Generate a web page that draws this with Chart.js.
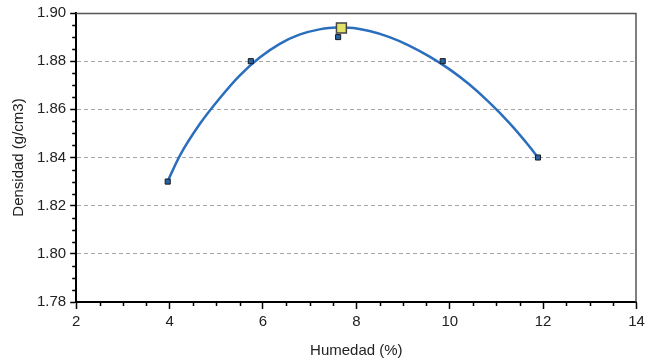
<!DOCTYPE html>
<html lang="es">
<head>
    <meta charset="UTF-8">
    <title>Densidad vs Humedad</title>
    <script src="https://cdn.jsdelivr.net/npm/chart.js"></script>
    <style>
        html, body { margin: 0; padding: 0; background: #fff; }
        #wrap { width: 645px; height: 360px; position: relative; }
    </style>
</head>
<body>
    <div id="wrap">
        <canvas id="chart"></canvas>
    </div>
    <script>
        // ensayo: humedad (%) y densidad seca (g/cm3)
        const humedad = [3.96, 5.74, 7.61, 9.85, 11.89];
        const densidad = [1.83, 1.88, 1.89, 1.88, 1.84];

        // punto maximo de la curva
        const maxHumedad = [7.68];
        const maxDensidad = [1.8938];

        // curva ajustada
        const curvaX = [3.96, 4.22, 4.65, 5.07, 5.50, 5.93, 6.36, 6.78, 7.21, 7.57, 7.85, 8.28, 8.71, 9.13, 9.56, 9.99, 10.41, 10.84, 11.27, 11.69, 11.89];
        const curvaY = [1.8302, 1.8408, 1.8540, 1.8645, 1.8740, 1.8815, 1.8872, 1.8910, 1.8932, 1.8940, 1.8939, 1.8925, 1.8900, 1.8865, 1.8820, 1.8767, 1.8705, 1.8630, 1.8545, 1.8450, 1.8400];

        const xTicks = [2, 4, 6, 8, 10, 12, 14];
        const yTicks = [1.78, 1.80, 1.82, 1.84, 1.86, 1.88, 1.90];

        const toPoints = (xs, ys) => xs.map((x, i) => ({ x: x, y: ys[i] }));
        const font = { family: "'Liberation Sans', Arial, sans-serif", size: 15 };

        // ticks menores y marco superior/derecho
        const framePlugin = {
            id: 'frame',
            afterDraw(chart) {
                const c = chart.ctx;
                const a = chart.chartArea;
                const xs = chart.scales.x;
                const ys = chart.scales.y;
                c.save();
                c.strokeStyle = '#555';
                c.lineWidth = 1.5;
                c.beginPath();
                c.moveTo(a.left, a.top + 0.5);
                c.lineTo(a.right - 0.5, a.top + 0.5);
                c.lineTo(a.right - 0.5, a.bottom);
                c.stroke();

                c.strokeStyle = '#000';
                c.lineWidth = 1.5;
                c.beginPath();
                for (let v = xs.min; v <= xs.max + 1e-9; v += 0.5) {
                    if (Math.abs(v / 2 - Math.round(v / 2)) < 1e-6) continue;
                    const px = Math.round(xs.getPixelForValue(v)) + 0.5;
                    c.moveTo(px, a.bottom);
                    c.lineTo(px, a.bottom + 4);
                }
                for (let v = ys.min; v <= ys.max + 1e-9; v += 0.005) {
                    if (Math.abs(v / 0.02 - Math.round(v / 0.02)) < 1e-6) continue;
                    const py = Math.round(ys.getPixelForValue(v)) + 0.5;
                    c.moveTo(a.left, py);
                    c.lineTo(a.left - 4, py);
                }
                c.stroke();
                c.restore();
            }
        };

        const ctx = document.getElementById('chart').getContext('2d');
        new Chart(ctx, {
            type: 'scatter',
            data: {
                datasets: [
                    {
                        label: 'curva',
                        data: toPoints(curvaX, curvaY),
                        showLine: true,
                        borderColor: '#2a6ebd',
                        borderWidth: 2.5,
                        pointRadius: 0,
                        cubicInterpolationMode: 'monotone',
                        order: 3
                    },
                    {
                        label: 'ensayos',
                        data: toPoints(humedad, densidad),
                        pointStyle: 'rect',
                        pointRadius: 3.6,
                        backgroundColor: '#2563a8',
                        borderColor: '#1a1a1a',
                        borderWidth: 1,
                        order: 2
                    },
                    {
                        label: 'maximo',
                        data: toPoints(maxHumedad, maxDensidad),
                        pointStyle: 'rect',
                        pointRadius: 7,
                        backgroundColor: '#e2e46a',
                        borderColor: '#444',
                        borderWidth: 1.5,
                        order: 1
                    }
                ]
            },
            options: {
                responsive: true,
                maintainAspectRatio: false,
                animation: false,
                layout: { padding: { top: 13, right: 0, left: 10, bottom: 0 } },
                plugins: {
                    legend: { display: false },
                    tooltip: { enabled: false }
                },
                scales: {
                    x: {
                        type: 'linear',
                        min: xTicks[0],
                        max: xTicks[xTicks.length - 1],
                        afterBuildTicks: (s) => { s.ticks = xTicks.map(v => ({ value: v })); },
                        afterFit: (s) => { s.paddingRight = 8; },
                        ticks: { color: '#222', font: font, padding: 4 },
                        grid: {
                            drawOnChartArea: false,
                            tickLength: 7,
                            tickColor: '#000',
                            tickWidth: 1.5
                        },
                        border: { color: '#000', width: 2 },
                        title: {
                            display: true,
                            text: 'Humedad (%)',
                            color: '#222',
                            font: font,
                            padding: { top: 7, bottom: 0 }
                        }
                    },
                    y: {
                        type: 'linear',
                        min: yTicks[0],
                        max: yTicks[yTicks.length - 1],
                        afterBuildTicks: (s) => { s.ticks = yTicks.map(v => ({ value: v })); },
                        ticks: {
                            color: '#222',
                            font: font,
                            padding: 4,
                            callback: (v) => Number(v).toFixed(2)
                        },
                        grid: {
                            color: (c) => (c.tick && (c.tick.value <= yTicks[0] + 1e-9 || c.tick.value >= yTicks[yTicks.length - 1] - 1e-9)) ? 'rgba(0,0,0,0)' : '#a8a8a8',
                            lineWidth: 1,
                            tickLength: 6,
                            tickColor: '#000',
                            tickWidth: 1.5
                        },
                        border: { color: '#000', width: 2, dash: [4, 3] },
                        title: {
                            display: true,
                            text: 'Densidad (g/cm3)',
                            color: '#222',
                            font: font,
                            padding: { top: 0, bottom: 5 }
                        }
                    }
                }
            },
            plugins: [framePlugin]
        });
    </script>
</body>
</html>
